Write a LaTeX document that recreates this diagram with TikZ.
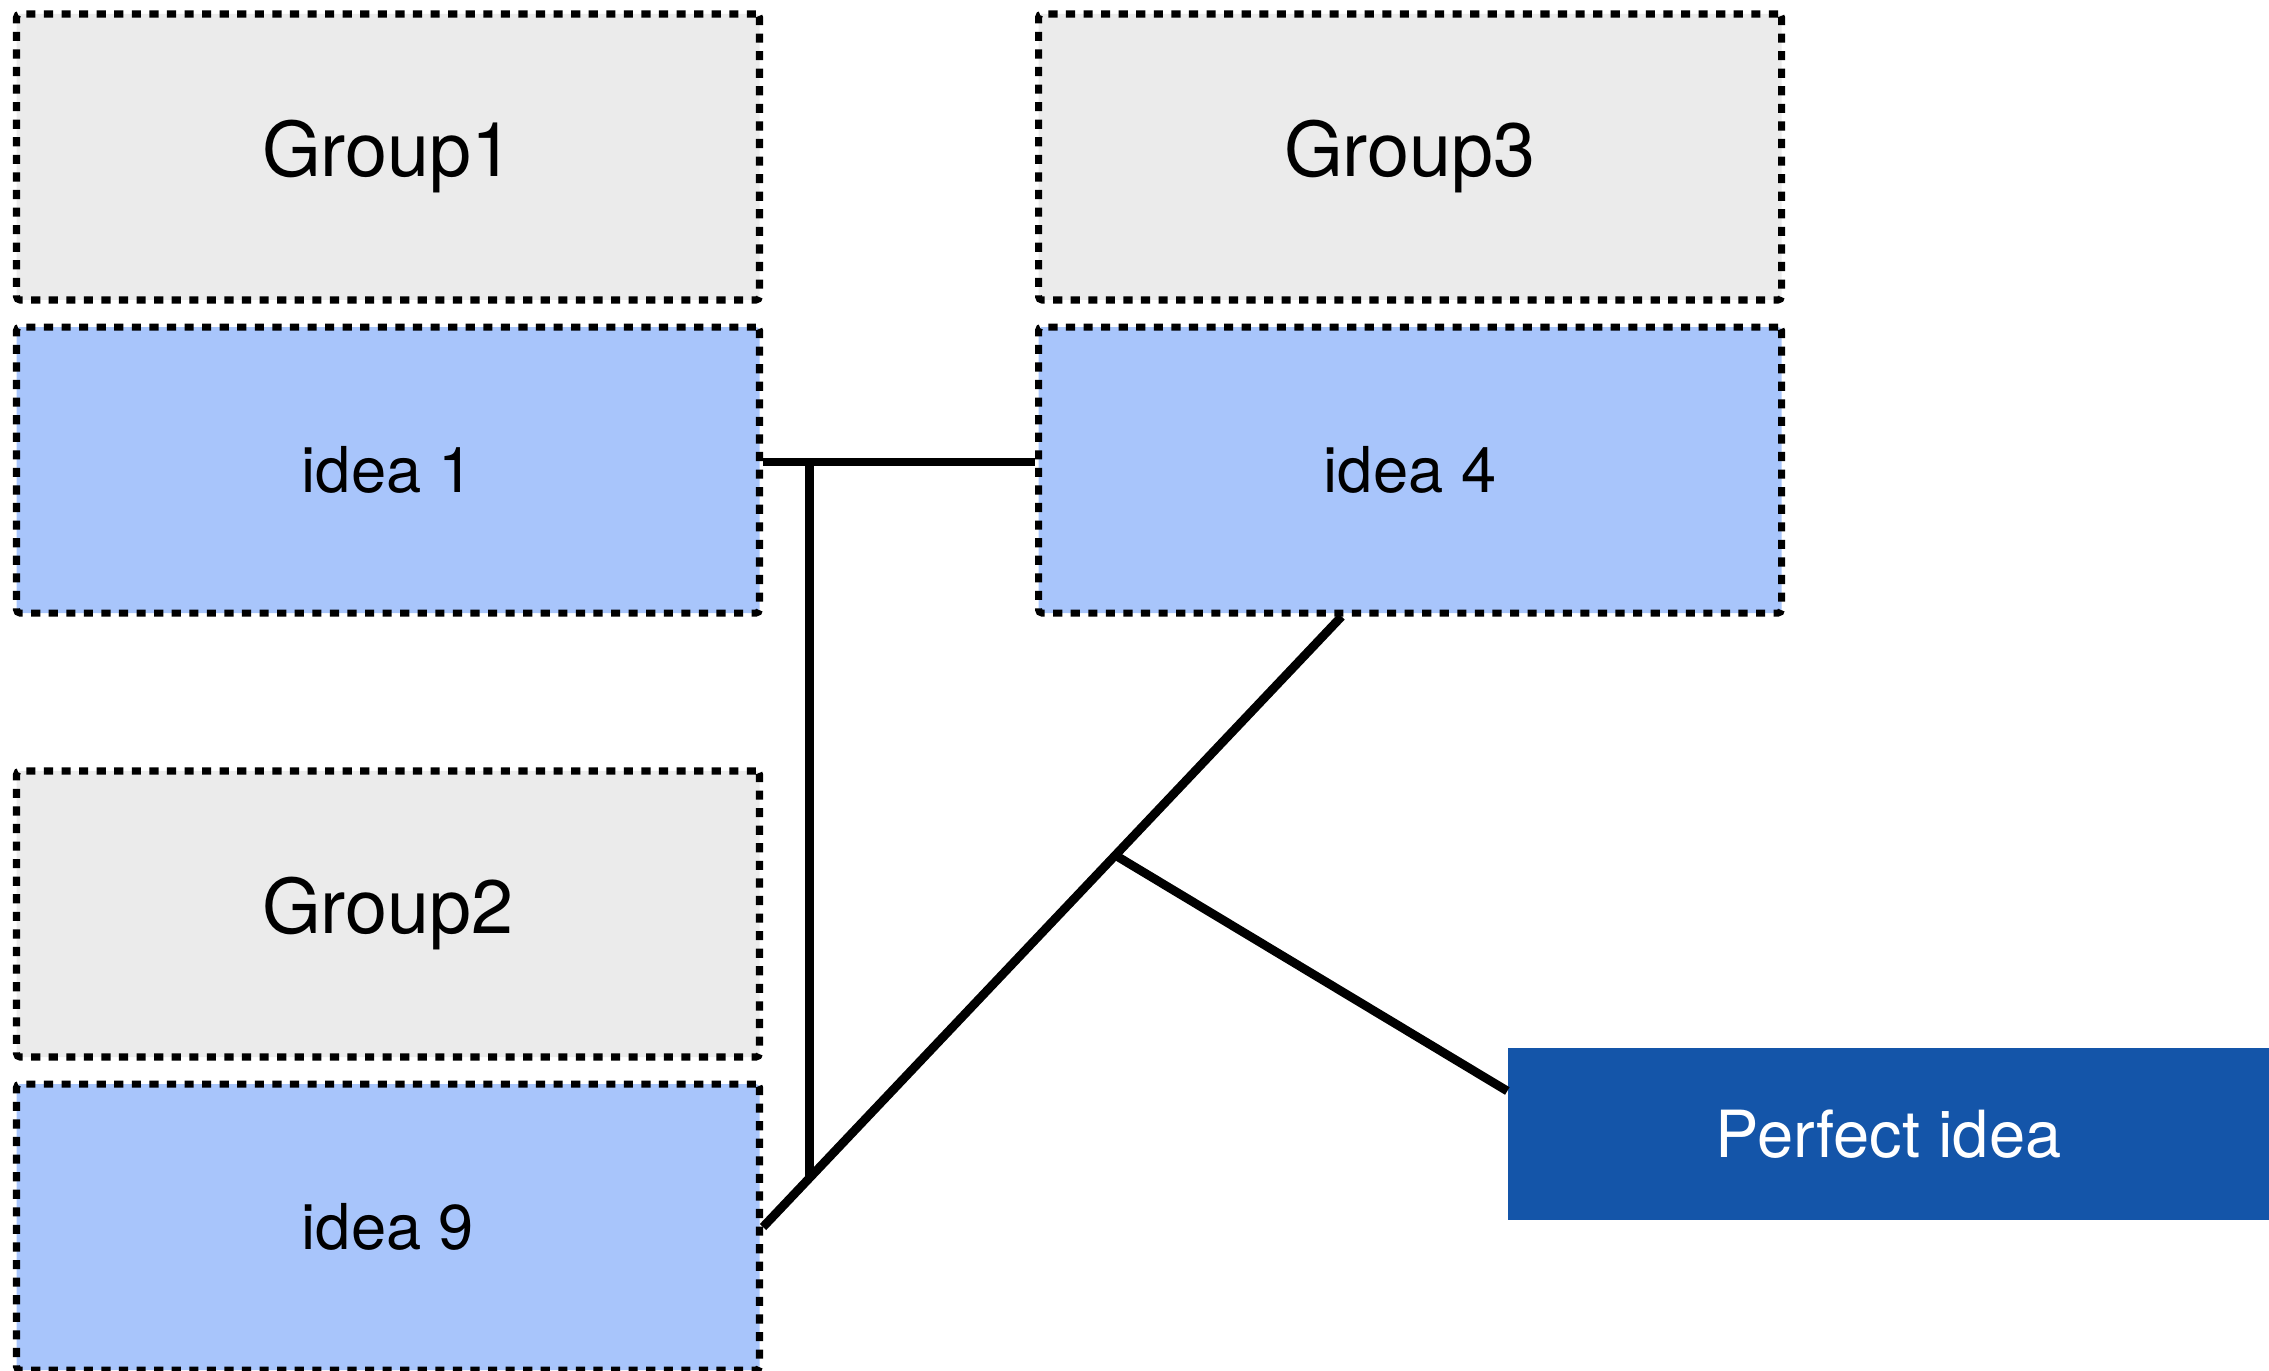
\documentclass[tikz,border=0pt]{standalone}
\usepackage{fontspec}
\setmainfont{TeX Gyre Heros}
\usetikzlibrary{positioning,calc}
\definecolor{groupgray}{HTML}{EBEBEB}
\definecolor{ideablue}{HTML}{A8C5FB}
\definecolor{perfectblue}{HTML}{1455A9}

\begin{document}
\begin{tikzpicture}[
  group/.style={draw, fill=groupgray, line width=2pt, dash pattern=on 2.6pt off 2.4pt, rounded corners=1pt, minimum width=7.43cm, minimum height=2.86cm, font=\fontsize{21.5}{26}\selectfont},
  idea/.style={group, fill=ideablue, font=\fontsize{18}{22}\selectfont},
  best/.style={fill=perfectblue, text=white, minimum width=7.61cm, minimum height=1.72cm, font=\fontsize{18.5}{22}\selectfont},
  link/.style={line width=2.5pt}]
\useasboundingbox (0,0) rectangle (22.69,13.70);
\node [group] (g1) at (3.88,12.13) {Group1};
\node [idea, below=0.2cm of g1] (i1) {idea 1};
\node [group] (g3) at (14.10,12.13) {Group3};
\node [idea, below=0.2cm of g3] (i4) {idea 4};
\node [group] (g2) at (3.88,4.56) {Group2};
\node [idea, below=0.2cm of g2] (i9) {idea 9};
\node [best] (p) at (18.885,2.36) {Perfect idea};
\coordinate (j1) at ($([yshift=0.08cm]i1.east)!0.17!([yshift=0.08cm]i4.west)$);
\coordinate (j2) at ($(i9.east)!0.082!([xshift=-0.685cm]i4.south)$);
\coordinate (j3) at ($(i9.east)!0.609!([xshift=-0.685cm]i4.south)$);
\draw [link] ([yshift=0.08cm]i1.east) -- ([yshift=0.08cm]i4.west);
\draw [link] (i9.east) -- ([xshift=-0.685cm]i4.south);
\draw [link] (j1) -- (j1 |- j2);
\draw [link] (j3) -- ([yshift=0.43cm]p.west);
\end{tikzpicture}
\end{document}
